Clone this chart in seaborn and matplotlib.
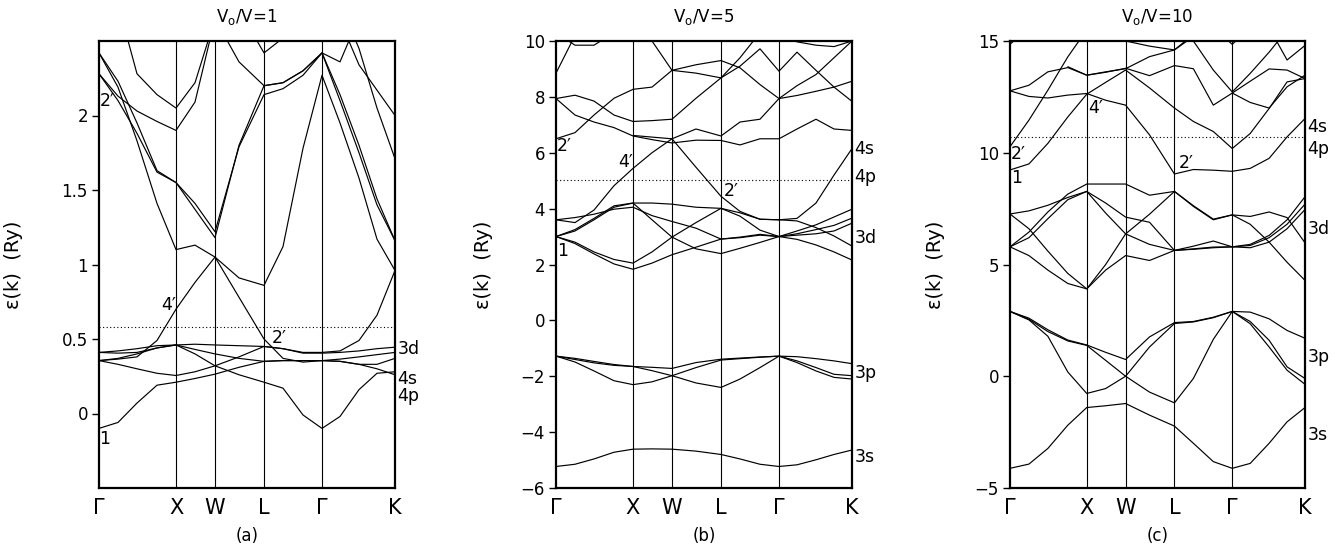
import math
import pandas as pd
import matplotlib
matplotlib.use("Agg")
import matplotlib.pyplot as plt
import seaborn as sns

nan = float("nan")

# k-path sample positions (path-length units) and high-symmetry points
K_GRID = [0, 19, 38, 58, 77, 96, 116, 140, 165, 184, 204, 223, 241, 260, 278, 296]
SYM_POS = [0, 77, 116, 165, 223, 296]
SYM_LABELS = ["Γ", "X", "W", "L", "Γ", "K"]

# ---------------- (a) V0/V = 1 ----------------
A1 = [-0.10, -0.06, 0.07, 0.19, 0.21, 0.235, 0.264, 0.31, 0.35, 0.355, 0.355, 0.355, 0.35, 0.33, 0.30, 0.26]
A2 = [0.355, 0.33, 0.30, 0.27, 0.255, 0.28, 0.32, 0.26, 0.21, 0.17, -0.01, -0.10, -0.02, 0.16, 0.27, 0.28]
A3 = [0.355, 0.365, 0.38, 0.49, 0.70, 0.88, 1.05, 0.78, 0.50, 0.37, 0.345, 0.355, 0.35, 0.33, 0.33, 0.37]
A4 = [0.41, 0.42, 0.435, 0.455, 0.46, 0.465, 0.46, 0.455, 0.45, 0.435, 0.405, 0.405, 0.41, 0.42, 0.435, 0.445]
A5 = [0.41, 0.405, 0.41, 0.44, 0.46, 0.43, 0.40, 0.37, 0.35, 0.355, 0.355, 0.355, 0.365, 0.38, 0.395, 0.41]
A6 = [0.355, 0.37, 0.40, 0.44, 0.46, 0.40, 0.32, 0.38, 0.45, 0.435, 0.41, 0.41, 0.42, 0.49, 0.66, 0.96]
A7 = [2.42, 2.23, 1.95, 1.63, 1.55, 1.41, 1.22, 1.79, 2.14, 2.18, 2.27, 2.42, 2.14, 1.80, 1.44, 1.16]
A8 = [2.42, 2.19, 1.83, 1.41, 1.10, 1.13, 1.05, 0.91, 0.86, 1.12, 1.78, 2.27, 1.95, 1.58, 1.17, 0.96]
A9 = [2.28, 2.10, 1.88, 1.62, 1.55, 1.37, 1.18, 1.80, 2.20, 2.22, 2.30, 2.42, 2.10, 1.75, 1.40, 1.16]
A10 = [3.2, 2.75, 2.28, 2.14, 2.05, 2.22, 2.65, 2.36, 2.20, 2.22, 2.30, 2.42, 2.36, 2.66, nan, nan]
A11 = [2.28, 2.13, 2.03, 1.96, 1.90, 2.09, 2.65, 2.71, 2.42, 2.52, 3.0, 3.2, 2.64, 2.34, 2.17, 2.00]
A12 = [nan] * 12 + [2.75, 2.45, 2.05, 1.71]
BANDS_A = [A1, A2, A3, A4, A5, A6, A7, A8, A9, A10, A11, A12]
FERMI_A = 0.58

# ---------------- (b) V0/V = 5 ----------------
B_S = [-5.23, -5.15, -4.96, -4.72, -4.61, -4.60, -4.61, -4.68, -4.80, -4.96, -5.15, -5.23, -5.17, -4.99, -4.80, -4.64]
B_P1 = [-1.28, -1.40, -1.52, -1.61, -1.65, -1.68, -1.72, -1.51, -1.39, -1.35, -1.31, -1.28, -1.30, -1.37, -1.45, -1.55]
B_P2 = [-1.28, -1.49, -1.81, -2.16, -2.30, -2.20, -1.98, -2.24, -2.40, -2.10, -1.69, -1.28, -1.45, -1.69, -1.93, -1.98]
B_P3 = [-1.28, -1.36, -1.47, -1.58, -1.65, -1.80, -1.98, -1.69, -1.42, -1.37, -1.32, -1.28, -1.51, -1.81, -2.04, -2.10]
B_D1 = [3.6, 3.5, 3.95, 4.82, 5.44, 6.0, 6.5, 5.48, 4.44, 3.9, 3.62, 3.6, 3.65, 4.2, 5.2, 6.15]
B_D2 = [3.6, 3.68, 3.8, 3.98, 4.05, 3.75, 3.54, 3.3, 2.91, 2.96, 3.05, 3.0, 3.1, 3.25, 3.4, 3.66]
B_D3 = [3.0, 3.2, 3.6, 4.05, 4.2, 4.2, 4.16, 4.05, 4.01, 3.85, 3.62, 3.6, 3.56, 3.32, 3.02, 2.66]
B_D4 = [3.0, 3.25, 3.65, 4.1, 4.2, 3.6, 2.98, 3.5, 4.01, 3.73, 3.23, 3.0, 3.2, 3.42, 3.7, 3.98]
B_D5 = [3.0, 2.8, 2.45, 2.18, 2.05, 2.45, 2.98, 2.56, 2.39, 2.58, 2.79, 3.0, 2.9, 2.7, 2.45, 2.16]
B_D6 = [3.0, 2.75, 2.38, 2.02, 1.83, 2.05, 2.35, 2.62, 2.91, 2.98, 3.08, 3.0, 3.05, 3.1, 3.2, 3.48]
B_U1 = [6.5, 6.72, 7.35, 7.95, 8.27, 8.35, 8.95, 9.15, 9.3, 9.04, 8.44, 7.94, 8.4, 8.8, 9.4, 10.0]
B_U2 = [7.94, 8.06, 7.85, 7.35, 7.12, 7.15, 7.2, 7.95, 8.68, 9.1, 9.72, 8.92, 9.6, 8.95, 8.35, 7.84]
B_U3 = [7.94, 7.35, 7.1, 6.9, 6.6, 6.47, 6.35, 6.45, 6.44, 6.28, 6.5, 6.5, 6.85, 7.2, 6.85, 6.8]
B_U4 = [nan, nan, nan, nan, 6.62, 6.56, 6.5, 6.85, 6.6, 7.1, 7.2, 7.94, 8.05, 8.2, 8.35, 8.56]
B_U5 = [8.85, 10.2] + [nan] * 14
B_U6 = [10.3, 9.85, 9.85, 10.3] + [nan] * 12
B_U7 = [nan, nan, nan, nan, 10.8, 10.0, 8.95, 8.85, 8.68, 9.4, 10.3] + [nan] * 5
B_U8 = [nan] * 11 + [10.2, 9.97, 9.85, 9.8, 10.0]
BANDS_B = [B_S, B_P1, B_P2, B_P3, B_D1, B_D2, B_D3, B_D4, B_D5, B_D6,
           B_U1, B_U2, B_U3, B_U4, B_U5, B_U6, B_U7, B_U8]
FERMI_B = 5.03

# ---------------- (c) V0/V = 10 ----------------
C_S = [-4.12, -3.93, -3.23, -2.19, -1.40, -1.32, -1.22, -1.74, -2.23, -3.0, -3.82, -4.12, -3.90, -3.0, -2.04, -1.40]
C_P1 = [2.9, 2.6, 2.08, 1.62, 1.40, 1.07, 0.75, 1.76, 2.40, 2.45, 2.64, 2.90, 2.87, 2.57, 2.05, 1.70]
C_P2 = [2.9, 2.55, 2.0, 1.58, 1.38, 0.71, 0.0, 1.31, 2.36, 2.43, 2.62, 2.90, 2.45, 1.61, 0.42, -0.10]
C_P3 = [2.9, 2.52, 1.79, 0.19, -0.77, -0.55, 0.0, -0.71, -1.19, -0.1, 1.65, 2.90, 2.35, 1.31, 0.27, -0.36]
C_D1 = [7.26, 7.4, 7.65, 8.0, 8.27, 7.75, 7.12, 6.89, 5.63, 5.82, 6.05, 5.79, 5.9, 6.3, 7.0, 8.03]
C_D2 = [5.79, 6.45, 7.35, 8.15, 8.6, 8.6, 8.6, 8.1, 8.27, 7.63, 7.03, 7.22, 7.15, 7.35, 7.1, 5.97]
C_D3 = [5.79, 6.2, 7.05, 7.9, 8.27, 7.3, 6.37, 7.25, 8.27, 7.6, 7.0, 7.22, 6.8, 6.0, 5.1, 4.29]
C_D4 = [7.26, 6.6, 5.6, 4.6, 3.91, 5.0, 6.37, 5.9, 5.63, 5.7, 5.78, 5.79, 5.85, 6.2, 6.8, 7.7]
C_D5 = [5.79, 5.4, 4.75, 4.15, 3.91, 4.75, 5.4, 5.18, 5.63, 5.68, 5.75, 5.79, 5.75, 6.0, 6.6, 7.46]
C_U1 = [9.23, 9.5, 10.42, 11.6, 12.62, 13.15, 13.7, 12.9, 12.0, 11.4, 10.95, 10.19, 10.86, 11.98, 13.17, 13.32]
C_U2 = [10.27, 11.46, 12.8, 14.29, 15.5] + [nan] * 11
C_U3 = [12.77, 13.02, 13.62, 13.81, 13.47, 13.62, 13.76, 14.3, 14.6, 15.3] + [nan] * 6
C_U4 = [12.77, 12.52, 12.45, 12.58, 12.65, 12.35, 12.13, 10.8, 9.05, 9.25, 9.22, 9.17, 9.3, 9.75, 10.71, 11.53]
C_U5 = [nan, nan, nan, 13.85, 13.47, 13.6, 13.78, 13.45, 13.9, 13.76, 12.13, 12.67, 12.25, 12.0, 12.95, 13.47]
C_U6 = [nan] * 6 + [15.0, 14.77, 14.6, 15.2] + [nan] * 6
C_U7 = [nan] * 8 + [16.2, 15.0, 13.7, 12.72, 13.55, 14.5, 15.5, nan]
C_U8 = [nan] * 11 + [12.67, 13.2, 13.75, 13.7, 13.32]
C_U9 = [nan] * 10 + [15.6, 14.85, 15.6] + [nan] * 3
C_U10 = [nan] * 13 + [15.6, 14.15, 14.8]
C_U11 = [14.85, 15.6] + [nan] * 14
BANDS_C = [C_S, C_P1, C_P2, C_P3, C_D1, C_D2, C_D3, C_D4, C_D5,
           C_U1, C_U2, C_U3, C_U4, C_U5, C_U6, C_U7, C_U8, C_U9, C_U10, C_U11]
FERMI_C = 10.71

# axis setup per panel
YLIM_A, YTICKS_A, YTL_A = (-0.5, 2.5), [0, 0.5, 1, 1.5, 2], ["0", "0.5", "1", "1.5", "2"]
YLIM_B, YTICKS_B = (-6, 10), [-6, -4, -2, 0, 2, 4, 6, 8, 10]
YTL_B = ["−6", "−4", "−2", "0", "2", "4", "6", "8", "10"]
YLIM_C, YTICKS_C, YTL_C = (-5, 15), [-5, 0, 5, 10, 15], ["−5", "0", "5", "10", "15"]

# labels on the bands (k position, energy, text)
MARKS_A = [(8, 2.10, "2′"), (6, -0.17, "1"), (70, 0.73, "4′"), (180, 0.51, "2′")]
MARKS_B = [(8, 6.25, "2′"), (70, 5.66, "4′"), (175, 4.64, "2′"), (7, 2.5, "1")]
MARKS_C = [(8, 9.94, "2′"), (7, 8.85, "1"), (86, 11.98, "4′"), (177, 9.55, "2′")]

# atomic-level labels on the right edge
LEVELS_A = [(0.43, "3d"), (0.23, "4s"), (0.12, "4p")]
LEVELS_B = [(6.12, "4s"), (5.12, "4p"), (2.95, "3d"), (-1.88, "3p"), (-4.9, "3s")]
LEVELS_C = [(11.13, "4s"), (10.19, "4p"), (6.59, "3d"), (0.87, "3p"), (-2.65, "3s")]

sns.set_theme(style="white")
plt.rcParams["font.family"] = ["DejaVu Sans"]
plt.rcParams["axes.unicode_minus"] = True
for key in ("text.color", "axes.labelcolor", "xtick.color", "ytick.color", "axes.edgecolor"):
    plt.rcParams[key] = "black"


def band_frame(bands):
    rows = []
    for i, band in enumerate(bands):
        for k, e in zip(K_GRID, band):
            if not math.isnan(e):
                rows.append({"k": k, "E": e, "band": i})
    return pd.DataFrame(rows)


def draw_panel(ax, bands, ylim, yticks, ytl, fermi, title, tag, marks, levels, ylab_x):
    df = band_frame(bands)
    sns.lineplot(data=df, x="k", y="E", units="band", estimator=None, sort=False,
                 color="black", linewidth=0.85, ax=ax, legend=False)
    for p in SYM_POS[1:-1]:
        ax.axvline(p, color="black", linewidth=0.8)
    ax.axhline(fermi, color="black", linewidth=0.8, linestyle=(0, (1, 2.2)))
    ax.set_xlim(SYM_POS[0], SYM_POS[-1])
    ax.set_ylim(*ylim)
    ax.set_yticks(yticks)
    ax.set_yticklabels(ytl, fontsize=12)
    ax.set_xticks(SYM_POS)
    ax.set_xticklabels(SYM_LABELS, fontsize=15)
    ax.tick_params(axis="x", length=0, pad=7)
    ax.tick_params(axis="y", direction="out", length=5, width=1, pad=3, left=True)
    for s in ax.spines.values():
        s.set_color("black")
        s.set_linewidth(1.6)
    ax.set_xlabel("")
    ax.set_ylabel("ε(k)  (Ry)", fontsize=14)
    ax.yaxis.set_label_coords(ylab_x, 0.5)
    ax.text(0.5, 1.054, title, transform=ax.transAxes, ha="center", va="center", fontsize=12)
    ax.text(0.5, -0.108, tag, transform=ax.transAxes, ha="center", va="center", fontsize=12)
    for k, e, t in marks:
        ax.text(k, e, t, ha="center", va="center", fontsize=12.5)
    tr = ax.get_yaxis_transform()
    for e, t in levels:
        ax.text(1.008, e, t, transform=tr, ha="left", va="center", fontsize=12.5, clip_on=False)


fig = plt.figure(figsize=(13.38, 5.48), dpi=100)
bottom, height = 60 / 548, 447 / 548
ax_a = fig.add_axes([99 / 1338, bottom, 296 / 1338, height])
ax_b = fig.add_axes([556 / 1338, bottom, 296 / 1338, height])
ax_c = fig.add_axes([1010 / 1338, bottom, 295 / 1338, height])

draw_panel(ax_a, BANDS_A, YLIM_A, YTICKS_A, YTL_A, FERMI_A,
           r"V$_{\rm o}$/V=1", "(a)", MARKS_A, LEVELS_A, -0.257)
draw_panel(ax_b, BANDS_B, YLIM_B, YTICKS_B, YTL_B, FERMI_B,
           r"V$_{\rm o}$/V=5", "(b)", MARKS_B, LEVELS_B, -0.213)
draw_panel(ax_c, BANDS_C, YLIM_C, YTICKS_C, YTL_C, FERMI_C,
           r"V$_{\rm o}$/V=10", "(c)", MARKS_C, LEVELS_C, -0.22)

fig.savefig("out.png", dpi=100, facecolor="white")
